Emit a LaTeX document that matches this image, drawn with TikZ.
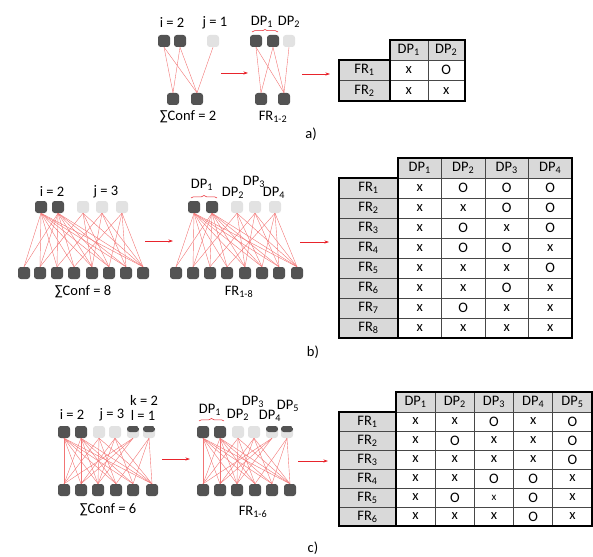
\documentclass[tikz,border=0pt]{standalone}
\usepackage{fontspec}
\setmainfont{Carlito}
\usetikzlibrary{arrows.meta,decorations.pathreplacing}
\definecolor{nd}{HTML}{535353}
\definecolor{nl}{HTML}{E2E2E2}
\definecolor{edg}{HTML}{F27474}
\definecolor{arr}{HTML}{E8242C}
\definecolor{hdr}{HTML}{D9D9D9}
\definecolor{inl}{HTML}{474747}
\begin{document}
\begin{tikzpicture}[x=1pt,y=-1pt,
  dn/.style={rectangle,rounded corners=2.8pt,minimum width=12pt,minimum height=12pt,inner sep=0pt,fill=nd},
  ln/.style={dn,fill=nl},
  hn/.style={ln,path picture={\fill[nd] (path picture bounding box.north west) rectangle (path picture bounding box.east);}},
  edge/.style={draw=edg,line width=0.4pt},
  flow/.style={draw=arr,line width=0.6pt,-{Stealth[length=4.5pt,width=3pt]}},
  lab/.style={font=\fontsize{14.5}{16}\selectfont,inner sep=0pt},
  tx/.style={font=\fontsize{14.5}{16}\selectfont,inner sep=0pt},
  brc/.style={draw=arr,line width=0.5pt,decorate,decoration={brace,amplitude=2.5pt}},
  inner line/.style={draw=inl,line width=0.9pt},
  outer line/.style={draw=black,line width=1.8pt,line join=miter}]
\useasboundingbox (0,0) rectangle (593,556);

% ================= a) =================
\foreach \n/\x/\s in {1/164/dn,2/180/dn,3/213/ln} \node[\s] (aLt\n) at (\x,41) {};
\foreach \n/\x in {1/173,2/197} \node[dn] (aLb\n) at (\x,99) {};
\foreach \n/\x/\s in {1/256/dn,2/273/dn,3/289/ln} \node[\s] (aRt\n) at (\x,41) {};
\foreach \n/\x in {1/261,2/284} \node[dn] (aRb\n) at (\x,99) {};
\foreach \t/\b in {1/1,1/2,2/1,2/2,3/2} {
  \draw[edge] (aLt\t.south) -- (aLb\b.north);
  \draw[edge] (aRt\t.south) -- (aRb\b.north);
}
\node[lab] (aI) at (172,23) {i = 2};
\node[lab] (aJ) at (215,23) {j = 1};
\node[lab] (aS) at (188,117) {∑Conf = 2};
\node[lab] (aD1) at (262,22) {DP\textsubscript{1}};
\node[lab] (aD2) at (289,22) {DP\textsubscript{2}};
\node[lab] (aF) at (273,117) {FR\textsubscript{1-2}};
\node[lab] (aTag) at (311,134) {a)};
\coordinate (aB1) at (252,32); \coordinate (aB2) at (278,32);
\draw[brc] (aB1) -- (aB2);
\coordinate (aA1) at (221,73); \coordinate (aA2) at (248,73);
\coordinate (aA3) at (302,74); \coordinate (aA4) at (330,74);
\draw[flow] (aA1) -- (aA2);
\draw[flow] (aA3) -- (aA4);
% table a
\fill[hdr] (390,40) rectangle (465,60);
\fill[hdr] (339,60) rectangle (390,101);
\draw[inner line] (428,40) -- (428,101);
\draw[inner line] (339,80.5) -- (465,80.5);
\draw[inner line] (390,60) -- (465,60);
\draw[outer line] (390,60) -- (390,40) -- (465,40) -- (465,101) -- (339,101) -- (339,60) -- cycle;
\draw[outer line] (390,60) -- (390,101);
\foreach \c in {1,2} \node[tx] (taH\c) at ({390+37.5*(\c-0.5)},50) {DP\textsubscript{\c}};
\foreach \r/\vals in {1/{x,O},2/{x,x}} {
  \node[tx] (taR\r) at (364.5,{60+20.5*(\r-0.5)}) {FR\textsubscript{\r}};
  \foreach \v [count=\c] in \vals \node[tx] (taC\r\c) at ({390+37.5*(\c-0.5)},{60+20.5*(\r-0.5)}) {\v};
}

% ================= b) =================
\foreach \n/\x/\s in {1/41/dn,2/58/dn,3/83/ln,4/102/ln,5/122/ln} \node[\s] (bLt\n) at (\x,207) {};
\foreach \x [count=\n] in {24,40,57,74,92,109,126,143} \node[dn] (bLb\n) at (\x,273) {};
\foreach \n/\x/\s in {1/194/dn,2/212/dn,3/237/ln,4/255/ln,5/275/ln} \node[\s] (bRt\n) at (\x,207) {};
\foreach \x [count=\n] in {176,193,210,227,245,262,279,297} \node[dn] (bRb\n) at (\x,273) {};
\foreach \t/\bs in {1/{1,2,3,4,5,6,7,8},2/{1,2,3,4,5,6,7,8},3/{2,5,6,8},4/{3,5,7,8},5/{4,6,7,8}} {
  \foreach \b in \bs {
    \draw[edge] (bLt\t.south) -- (bLb\b.north);
    \draw[edge] (bRt\t.south) -- (bRb\b.north);
  }
}
\node[lab] (bI) at (52,192) {i = 2};
\node[lab] (bJ) at (106,192) {j = 3};
\node[lab] (bS) at (83,292) {∑Conf = 8};
\node[lab] (bD1) at (202,185) {DP\textsubscript{1}};
\node[lab] (bD2) at (233,193) {DP\textsubscript{2}};
\node[lab] (bD3) at (254,182) {DP\textsubscript{3}};
\node[lab] (bD4) at (274,193) {DP\textsubscript{4}};
\node[lab] (bF) at (239,292) {FR\textsubscript{1-8}};
\node[lab] (bTag) at (313,352) {b)};
\coordinate (bB1) at (191,198); \coordinate (bB2) at (217,198);
\draw[brc] (bB1) -- (bB2);
\coordinate (bA1) at (145,241); \coordinate (bA2) at (173,241);
\coordinate (bA3) at (300,242); \coordinate (bA4) at (329,242);
\draw[flow] (bA1) -- (bA2);
\draw[flow] (bA3) -- (bA4);
% table b
\fill[hdr] (398,158) rectangle (572,178);
\fill[hdr] (339,178) rectangle (398,338);
\foreach \c in {1,2,3} \draw[inner line] ({398+43.5*\c},158) -- ({398+43.5*\c},338);
\foreach \r in {0,1,...,6} \draw[inner line] (339,{198+20*\r}) -- (572,{198+20*\r});
\draw[inner line] (398,178) -- (572,178);
\draw[outer line] (398,178) -- (398,158) -- (572,158) -- (572,338) -- (339,338) -- (339,178) -- cycle;
\draw[outer line] (398,178) -- (398,338);
\foreach \c in {1,...,4} \node[tx] (tbH\c) at ({398+43.5*(\c-0.5)},168) {DP\textsubscript{\c}};
\foreach \r/\vals in {1/{x,O,O,O},2/{x,x,O,O},3/{x,O,x,O},4/{x,O,O,x},5/{x,x,x,O},6/{x,x,O,x},7/{x,O,x,x},8/{x,x,x,x}} {
  \node[tx] (tbR\r) at (368.5,{178+20*(\r-0.5)}) {FR\textsubscript{\r}};
  \foreach \v [count=\c] in \vals \node[tx] (tbC\r\c) at ({398+43.5*(\c-0.5)},{178+20*(\r-0.5)}) {\v};
}

% ================= c) =================
\foreach \n/\x/\s in {1/64/dn,2/81/dn,3/99/ln,4/115/ln,5/133/hn,6/149/hn} \node[\s] (cLt\n) at (\x,432) {};
\foreach \x [count=\n] in {64,81,98,116,133,152} \node[dn] (cLb\n) at (\x,490) {};
\foreach \n/\x/\s in {1/203/dn,2/220/dn,3/238/ln,4/254/ln,5/272/hn,6/287/hn} \node[\s] (cRt\n) at (\x,432) {};
\foreach \x [count=\n] in {203,220,237,255,272,290} \node[dn] (cRb\n) at (\x,490) {};
\foreach \t/\bs in {1/{1,2,3,4,5,6},2/{1,2,3,4,5,6},3/{1,3,4,6},4/{2,3,5,6},5/{1,2,3},6/{4,5,6}} {
  \foreach \b in \bs {
    \draw[edge] (cLt\t.south) -- (cLb\b.north);
    \draw[edge] (cRt\t.south) -- (cRb\b.north);
  }
}
\node[lab] (cI) at (72,415) {i = 2};
\node[lab] (cJ) at (112,415) {j = 3};
\node[lab] (cL) at (143,415) {l = 1};
\node[lab] (cK) at (144,400) {k = 2};
\node[lab] (cS) at (108,510) {∑Conf = 6};
\node[lab] (cD1) at (210,410) {DP\textsubscript{1}};
\node[lab] (cD2) at (238,415) {DP\textsubscript{2}};
\node[lab] (cD3) at (253,402) {DP\textsubscript{3}};
\node[lab] (cD4) at (270,416) {DP\textsubscript{4}};
\node[lab] (cD5) at (288,406) {DP\textsubscript{5}};
\node[lab] (cF) at (253,512) {FR\textsubscript{1-6}};
\node[lab] (cTag) at (313,548) {c)};
\coordinate (cB1) at (199,421); \coordinate (cB2) at (224,421);
\draw[brc] (cB1) -- (cB2);
\coordinate (cA1) at (162,459); \coordinate (cA2) at (190,459);
\coordinate (cA3) at (298,461); \coordinate (cA4) at (328,461);
\draw[flow] (cA1) -- (cA2);
\draw[flow] (cA3) -- (cA4);
% table c
\fill[hdr] (396,392) rectangle (592,412);
\fill[hdr] (339,412) rectangle (396,526);
\foreach \c in {1,...,4} \draw[inner line] ({396+39.2*\c},392) -- ({396+39.2*\c},526);
\foreach \r in {1,...,5} \draw[inner line] (339,{412+19*\r}) -- (592,{412+19*\r});
\draw[inner line] (396,412) -- (592,412);
\draw[outer line] (396,412) -- (396,392) -- (592,392) -- (592,526) -- (339,526) -- (339,412) -- cycle;
\draw[outer line] (396,412) -- (396,526);
\foreach \c in {1,...,5} \node[tx] (tcH\c) at ({396+39.2*(\c-0.5)},402) {DP\textsubscript{\c}};
\foreach \r/\vals in {1/{x,x,O,x,O},2/{x,O,x,x,O},3/{x,x,x,x,O},4/{x,x,O,O,x},5/{x,O,{\fontsize{11}{12}\selectfont x},O,x},6/{x,x,x,O,x}} {
  \node[tx] (tcR\r) at (367.5,{412+19*(\r-0.5)}) {FR\textsubscript{\r}};
  \foreach \v [count=\c] in \vals \node[tx] (tcC\r\c) at ({396+39.2*(\c-0.5)},{412+19*(\r-0.5)}) {\v};
}
\end{tikzpicture}
\end{document}
